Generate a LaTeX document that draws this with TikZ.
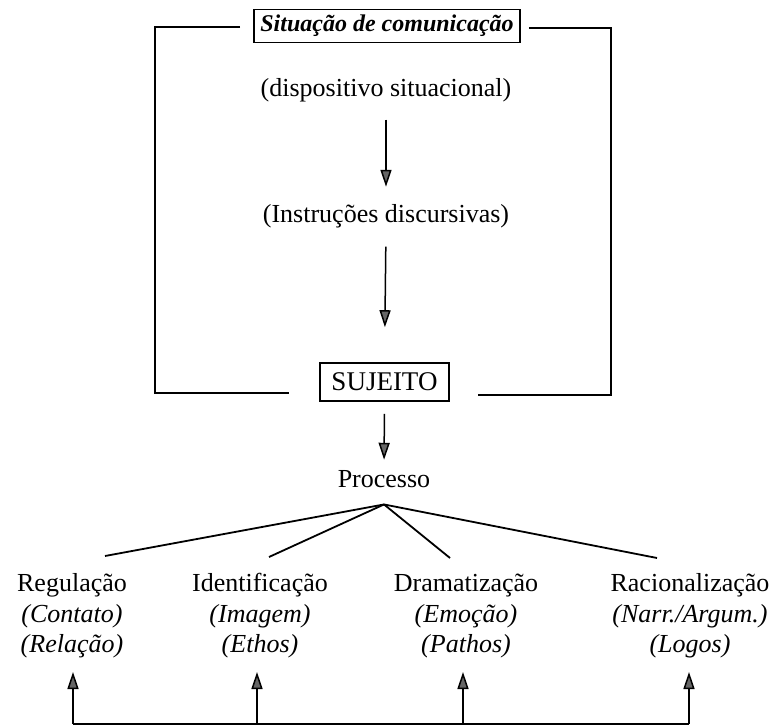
\documentclass[tikz,border=0pt]{standalone}
\usepackage{fontspec}
\setmainfont{Liberation Serif}
\usetikzlibrary{arrows.meta}

\begin{document}
\begin{tikzpicture}[x=1pt,y=-1pt,
  txt/.style={inner sep=0pt, anchor=base, font=\fontsize{26}{31}\selectfont},
  framebox/.style={draw, line width=1.6pt, inner sep=0pt, anchor=center},
  link/.style={line width=1.8pt},
  arr/.style={line width=1.5pt, -{Triangle[length=17pt,width=11pt,fill=black!60]}},
  cat/.style={inner sep=0pt, anchor=north, align=center, font=\fontsize{26}{30.5}\selectfont}
]
\useasboundingbox (0,0) rectangle (774,727);

% framed titles
\node[framebox, minimum width=266pt, minimum height=33pt,
      font=\bfseries\itshape\fontsize{24}{29}\selectfont] (sit) at (387,26) {Situação de comunicação};
\node[framebox, minimum width=129pt, minimum height=38pt,
      font=\fontsize{27}{32}\selectfont] (suj) at (384.5,382) {\raisebox{-1pt}{SUJEITO}};

% central column
\node[txt] (disp) at (386,97) {(dispositivo situacional)};
\node[txt] (instr) at (386,223) {(Instruções discursivas)};
\node[txt] (proc) at (384,487) {Processo};

% bracket joining the two framed titles
\coordinate (tl) at (155,27);
\coordinate (bl) at (155,393);
\coordinate (tr) at (611,28);
\coordinate (br) at (611,395);
\draw[link] ([xshift=-13pt]sit.west |- tl) -- (tl) -- (bl) -- ([xshift=-30pt]suj.west |- bl);
\draw[link] ([xshift=8pt]sit.east |- tr) -- (tr) -- (br) -- ([xshift=28pt]suj.east |- br);

% downward arrows
\draw[arr, shorten <=17pt, shorten >=18pt] (disp.south) -- (instr.north);
\draw[arr, shorten <=18pt, shorten >=35pt] (instr.south) -- (suj.north);
\draw[arr, shorten <=12pt, shorten >=10pt] (suj.south) -- (proc.north);

% the four categories (first line carries a strut so all tops align)
\node[cat] (reg) at (72,570) {\strut Regulação\\\textit{(Contato)}\\\textit{(Relação)}};
\node[cat] (ide) at (260,570) {\strut Identificação\\\textit{(Imagem)}\\\textit{(Ethos)}};
\node[cat] (dra) at (466,570) {\strut Dramatização\\\textit{(Emoção)}\\\textit{(Pathos)}};
\node[cat] (rac) at (690,570) {\strut Racionalização\\\textit{(Narr./Argum.)}\\\textit{(Logos)}};

% branches from Processo
\coordinate (apex) at ([yshift=-17pt]proc.south);
\draw[link] (apex) -- ([xshift=33pt,yshift=14pt]reg.north);
\draw[link] (apex) -- ([xshift=9pt,yshift=13pt]ide.north);
\draw[link] (apex) -- ([xshift=-16pt,yshift=12pt]dra.north);
\draw[link] (apex) -- ([xshift=-33pt,yshift=12pt]rac.north);

% shared base line with arrows up to each category
\coordinate (b1) at (73,724);
\coordinate (b2) at (257,724);
\coordinate (b3) at (463,724);
\coordinate (b4) at (689,724);
\draw[link] (b1) -- (b4);
\draw[arr] (b1) -- (b1 |- 0,672);
\draw[arr] (b2) -- (b2 |- 0,672);
\draw[arr] (b3) -- (b3 |- 0,672);
\draw[arr] (b4) -- (b4 |- 0,672);
\end{tikzpicture}
\end{document}
